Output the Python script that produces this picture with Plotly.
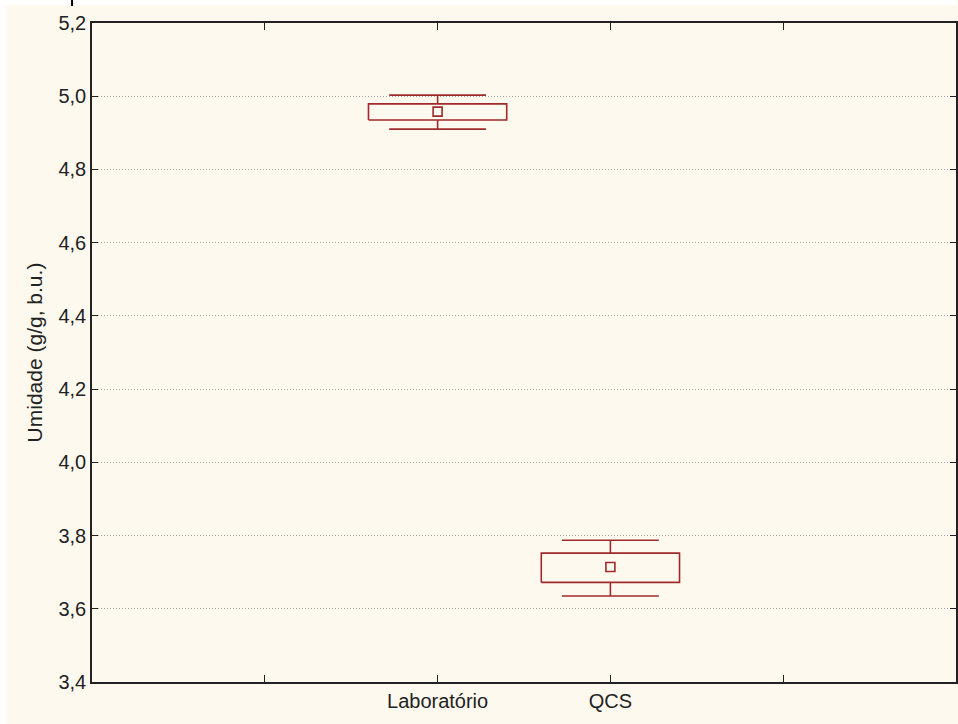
import plotly.graph_objects as go

# ---- data ----
categories = ["Laboratório", "QCS"]
cat_pos = [1, 2]
means = [4.958, 3.714]
box_low = [4.935, 3.672]
box_high = [4.979, 3.752]
whisker_low = [4.910, 3.635]
whisker_high = [5.003, 3.787]
y_ticks = [3.4, 3.6, 3.8, 4.0, 4.2, 4.4, 4.6, 4.8, 5.0, 5.2]

RED = "#9E2A2B"
BG = "#FEF9EE"
BOX_HALF = 0.4
CAP_HALF = 0.28

fig = go.Figure()

for x, m, bl, bh, wl, wh in zip(cat_pos, means, box_low, box_high, whisker_low, whisker_high):
    # box
    fig.add_trace(go.Scatter(
        x=[x - BOX_HALF, x + BOX_HALF, x + BOX_HALF, x - BOX_HALF, x - BOX_HALF],
        y=[bl, bl, bh, bh, bl], mode="lines",
        line=dict(color=RED, width=1.6), hoverinfo="skip", showlegend=False))
    # whiskers
    fig.add_trace(go.Scatter(
        x=[x, x, None, x, x, None, x - CAP_HALF, x + CAP_HALF, None, x - CAP_HALF, x + CAP_HALF],
        y=[bh, wh, None, bl, wl, None, wh, wh, None, wl, wl], mode="lines",
        line=dict(color=RED, width=1.6), hoverinfo="skip", showlegend=False))
    # mean marker
    fig.add_trace(go.Scatter(
        x=[x], y=[m], mode="markers",
        marker=dict(symbol="square", size=9, color=BG, line=dict(color=RED, width=1.6)),
        showlegend=False))

# plot area in pixels: x 92..958, y 23..682
L, R, T, B = 92, 958, 23, 682
W, H = R - L, B - T

def px(xp):
    return (xp - L) / W

def py(yp):
    return (B - yp) / H

shapes = [
    # white strips at top and left of the picture
    dict(type="rect", xref="paper", yref="paper", x0=px(0), x1=px(958), y0=py(5), y1=py(0),
         fillcolor="white", line=dict(width=0), layer="above"),
    dict(type="rect", xref="paper", yref="paper", x0=px(0), x1=px(6), y0=py(724), y1=py(0),
         fillcolor="white", line=dict(width=0), layer="above"),
    dict(type="line", xref="paper", yref="paper", x0=px(72), x1=px(72), y0=py(6), y1=py(0),
         line=dict(color="black", width=2)),
]

fig.update_layout(
    width=958, height=724,
    margin=dict(l=L, r=958 - R, t=T, b=724 - B),
    paper_bgcolor=BG, plot_bgcolor=BG,
    separators=",.",
    font=dict(family="Liberation Sans, Arial, sans-serif", size=20, color="#222"),
    shapes=shapes,
    xaxis=dict(
        range=[-1, 4], tickvals=[0] + cat_pos + [3],
        ticktext=[""] + categories + [""],
        ticks="inside", ticklen=7, tickcolor="#222", tickwidth=1,
        showline=True, linecolor="#222", linewidth=1.6, mirror="ticks",
        showgrid=False, zeroline=False, fixedrange=True,
    ),
    yaxis=dict(
        range=[3.4, 5.2], tickvals=y_ticks, tickformat=".1f",
        ticks="inside", ticklen=6, tickcolor="#222", tickwidth=1,
        showline=True, linecolor="#222", linewidth=1.6, mirror="ticks",
        showgrid=True, gridcolor="#A8A8A8", griddash="1px,2px", gridwidth=1,
        zeroline=False,
        title=dict(text="Umidade (g/g, b.u.)", font=dict(size=21), standoff=10),
    ),
)

fig.write_html("out.html")
